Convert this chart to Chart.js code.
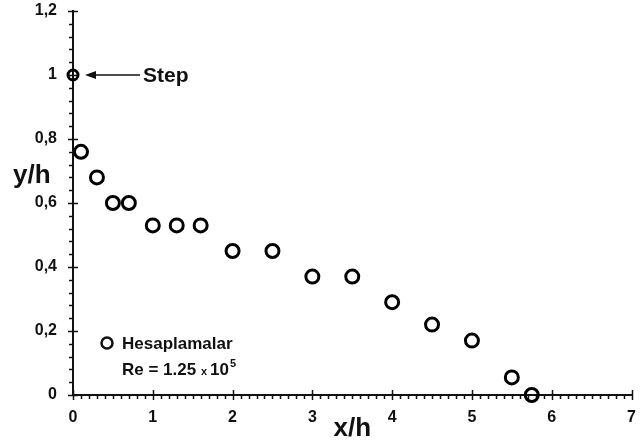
<!DOCTYPE html>
<html>
<head>
<meta charset="utf-8">
<script src="https://cdn.jsdelivr.net/npm/chart.js@4/dist/chart.umd.min.js"></script>
<style>
  html, body { margin: 0; padding: 0; overflow: hidden; background: #fff; }
  #wrap { width: 641px; height: 446px; }
</style>
</head>
<body>
<div id="wrap"><canvas id="chart" width="641" height="446"></canvas></div>
<script>
// Measured points (x/h, y/h), first one is the step corner
var xValues = [0, 0.1, 0.3, 0.5, 0.7, 1.0, 1.3, 1.6, 2.0, 2.5, 3.0, 3.5, 4.0, 4.5, 5.0, 5.5, 5.75];
var yValues = [1.0, 0.76, 0.68, 0.6, 0.6, 0.53, 0.53, 0.53, 0.45, 0.45, 0.37, 0.37, 0.29, 0.22, 0.17, 0.055, 0];

var seriesName = 'Hesaplamalar';
var stepLabel = 'Step';
var xTitle = 'x/h';
var yTitle = 'y/h';

var FONT = '"Liberation Sans", Arial, sans-serif';

var points = xValues.map(function (x, i) { return { x: x, y: yValues[i] }; });

// Tick marks crossing the axes + minor ticks
var axisTicks = {
    id: 'axisTicks',
    beforeDatasetsDraw: function (chart) {
        var ctx = chart.ctx, xs = chart.scales.x, ys = chart.scales.y;
        var x0 = xs.getPixelForValue(0), y0 = ys.getPixelForValue(0);
        ctx.save();
        ctx.strokeStyle = '#111';
        ctx.lineWidth = 1.5;
        ctx.beginPath();
        for (var i = 0; i <= 70; i++) {
            var px = Math.round(xs.getPixelForValue(i / 10)) + 0.5;
            var major = i % 10 === 0;
            ctx.moveTo(px, y0 - (major ? 5 : 0));
            ctx.lineTo(px, y0 + (major ? 5 : 4));
        }
        for (var j = 0; j <= 30; j++) {
            var py = Math.round(ys.getPixelForValue(j * 0.04)) + 0.5;
            var maj = j % 5 === 0;
            ctx.moveTo(x0 - (maj ? 5 : 4), py);
            ctx.lineTo(x0 + (maj ? 5 : 0), py);
        }
        ctx.stroke();
        ctx.restore();
    }
};

// Titles, step arrow and legend text
var annotations = {
    id: 'annotations',
    afterDraw: function (chart) {
        var ctx = chart.ctx, xs = chart.scales.x, ys = chart.scales.y;
        ctx.save();
        ctx.fillStyle = '#111';
        ctx.strokeStyle = '#111';

        // axis titles
        ctx.font = 'bold 26px ' + FONT;
        ctx.textBaseline = 'alphabetic';
        ctx.textAlign = 'left';
        ctx.fillText(yTitle, 13, 183);
        ctx.textAlign = 'center';
        ctx.fillText(xTitle, (chart.chartArea.left + chart.chartArea.right) / 2, 436);

        // step arrow
        var sx = xs.getPixelForValue(xValues[0]), sy = ys.getPixelForValue(yValues[0]);
        var tip = sx + 12;
        ctx.lineWidth = 1.5;
        ctx.beginPath();
        ctx.moveTo(tip + 6, sy);
        ctx.lineTo(tip + 55, sy);
        ctx.stroke();
        ctx.beginPath();
        ctx.moveTo(tip, sy);
        ctx.lineTo(tip + 11, sy - 4);
        ctx.lineTo(tip + 11, sy + 4);
        ctx.closePath();
        ctx.fill();
        ctx.font = 'bold 21px ' + FONT;
        ctx.textAlign = 'left';
        ctx.textBaseline = 'middle';
        ctx.fillText(stepLabel, tip + 58, sy + 1);

        // legend
        ctx.lineWidth = 2.5;
        ctx.beginPath();
        ctx.arc(107, 343, 5.5, 0, Math.PI * 2);
        ctx.stroke();
        ctx.textBaseline = 'alphabetic';
        ctx.font = 'bold 17px ' + FONT;
        ctx.fillText(seriesName, 122, 349);
        var x = 122;
        var t1 = 'Re = 1.25 ';
        ctx.fillText(t1, x, 375);
        x += ctx.measureText(t1).width;
        ctx.font = 'bold 11px ' + FONT;
        ctx.fillText('x', x, 375);
        x += ctx.measureText('x ').width;
        ctx.font = 'bold 17px ' + FONT;
        ctx.fillText('10', x, 375);
        x += ctx.measureText('10').width;
        ctx.font = 'bold 11px ' + FONT;
        ctx.fillText('5', x + 1, 367);
        ctx.restore();
    }
};

var chart = new Chart(document.getElementById('chart'), {
    type: 'scatter',
    data: {
        datasets: [{
            label: seriesName,
            data: points,
            showLine: false,
            clip: false,
            borderColor: '#000',
            backgroundColor: 'rgba(255,255,255,0)',
            borderWidth: 3,
            pointRadius: function (c) { return c.dataIndex === 0 ? 5 : 6.5; },
            pointHoverRadius: 6.5
        }]
    },
    options: {
        responsive: false,
        animation: false,
        layout: { padding: 0 },
        plugins: {
            legend: { display: false },
            tooltip: { enabled: false }
        },
        scales: {
            x: {
                type: 'linear',
                min: 0,
                max: 7,
                grid: { display: false, drawTicks: false },
                border: { display: true, color: '#111', width: 2 },
                ticks: {
                    stepSize: 1,
                    padding: 13,
                    color: '#111',
                    font: { family: FONT, size: 16, weight: 'bold' }
                },
                afterFit: function (s) {
                    s.height = 51;
                    s.paddingLeft = 0;
                    s.paddingRight = 0;
                }
            },
            y: {
                min: 0,
                max: 1.2,
                grid: { display: false, drawTicks: false },
                border: { display: true, color: '#111', width: 2 },
                ticks: {
                    stepSize: 0.2,
                    padding: 16,
                    color: '#111',
                    font: { family: FONT, size: 16, weight: 'bold' },
                    callback: function (v) { return String(Math.round(v * 10) / 10).replace('.', ','); }
                },
                afterFit: function (s) {
                    s.width = 73;
                    s.paddingTop = 11;
                    s.paddingBottom = 0;
                }
            }
        }
    },
    plugins: [axisTicks, annotations]
});
</script>
</body>
</html>
